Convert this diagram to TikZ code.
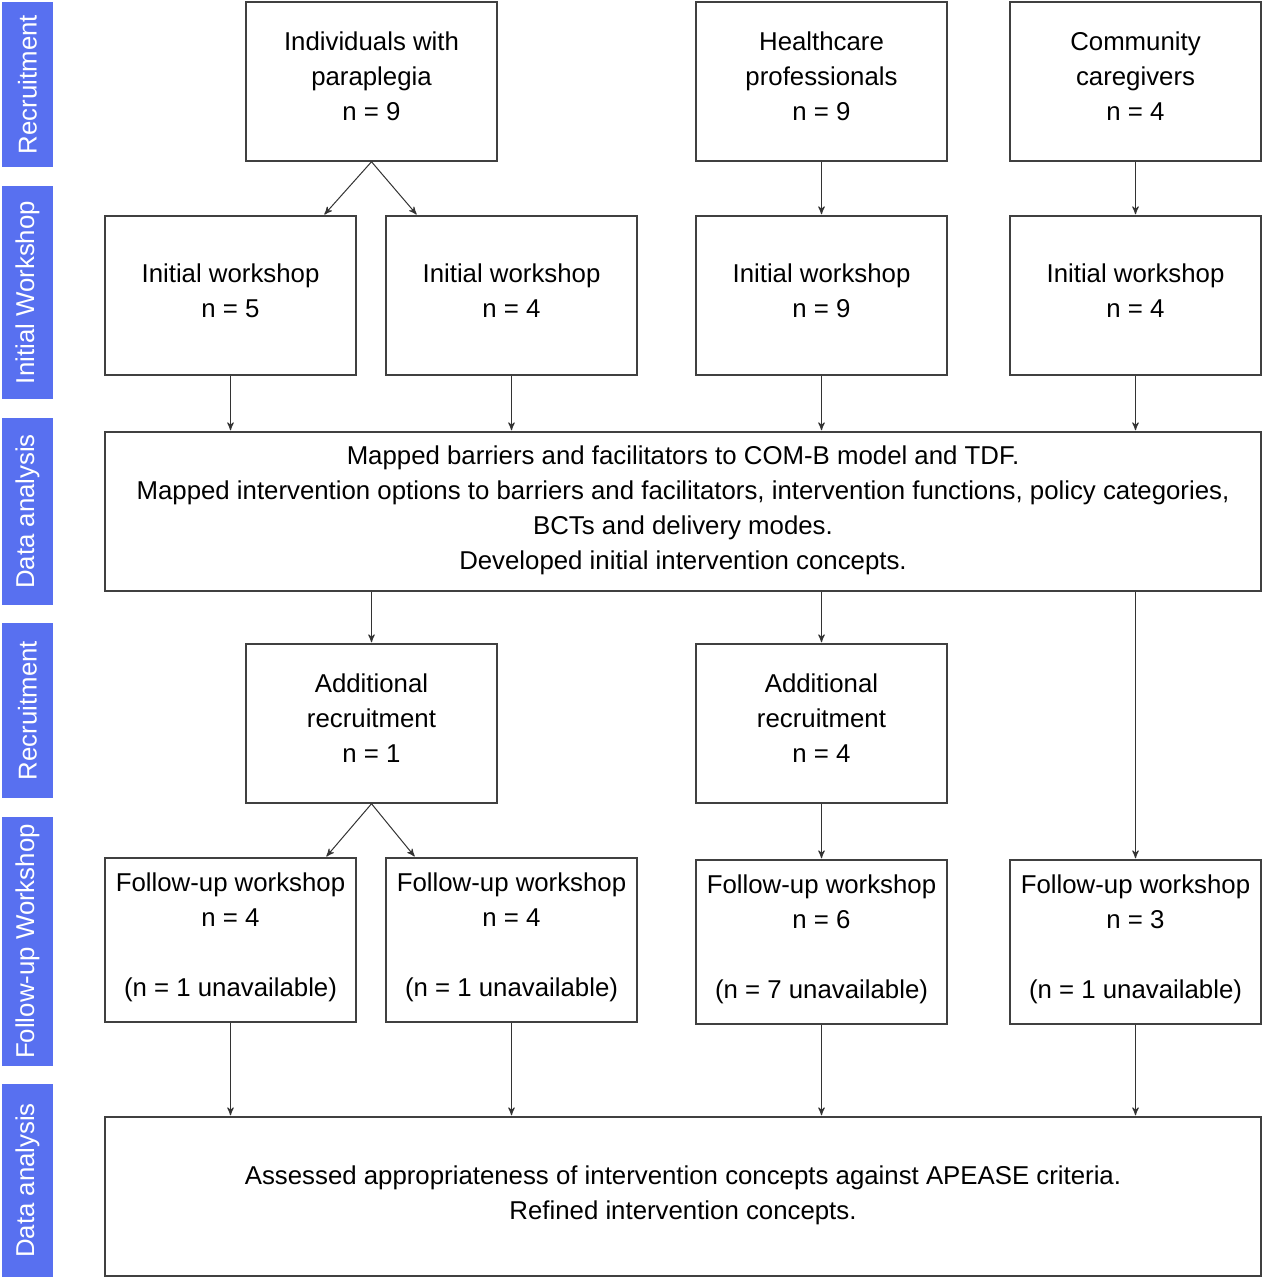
\documentclass[tikz,border=0pt]{standalone}
\usepackage{fontspec}
\setmainfont{Liberation Sans}
\usepackage{tikz}
\usetikzlibrary{positioning, calc, arrows}
\definecolor{stageblue}{RGB}{88,112,240}
\tikzset{box/.style={draw=black!75, line width=0.75pt, minimum width=125.5pt, minimum height=79.5pt, align=center, inner sep=0pt, text depth=5pt, font=\fontsize{12.9}{17.5}\selectfont}}
\tikzset{widebox/.style={box, minimum width=578pt, text depth=3.7pt}}
\tikzset{stage/.style={fill=stageblue, text=white, rotate=90, inner sep=0pt, minimum height=25.5pt, font=\fontsize{12.9}{15}\selectfont}}
\tikzset{flow/.style={->, >=stealth', black!80, line width=0.5pt, shorten >=0.5pt}}

\begin{document}
\begin{tikzpicture}[x=0.5pt, y=-0.5pt]

      \useasboundingbox (0,0) rectangle (1265,1280);

      % STAGES

      \node[stage, minimum width=82.5pt] (s1) at (27.5,84.5) {Recruitment};
      \node[stage, minimum width=106.5pt] (s2) at (27.5,292.5) {Initial Workshop};
      \node[stage, minimum width=93.5pt] (s3) at (27.5,511.5) {Data analysis};
      \node[stage, minimum width=87.5pt] (s4) at (27.5,710.5) {Recruitment};
      \node[stage, minimum width=124.5pt] (s5) at (27.5,941.5) {Follow-up Workshop};
      \node[stage, minimum width=96.5pt] (s6) at (27.5,1180.5) {Data analysis};

      % RECRUITMENT

      \node[box] (ind) at (371.5,81.5) {Individuals with\\paraplegia\\n = 9};
      \node[box] (hcp) at (821.5,81.5) {Healthcare\\professionals\\n = 9};
      \node[box] (cc) at (1135.5,81.5) {Community\\caregivers\\n = 4};

      % INITIAL WORKSHOPS

      \node[box] (iw1) at (230.5,295.5) {Initial workshop\\n = 5};
      \node[box] (iw2) at (511.5,295.5) {Initial workshop\\n = 4};
      \node[box] (iw3) at (821.5,295.5) {Initial workshop\\n = 9};
      \node[box] (iw4) at (1135.5,295.5) {Initial workshop\\n = 4};

      % DATA ANALYSIS

      \node[widebox] (da1) at (683,511.5) {Mapped barriers and facilitators to COM-B model and TDF.\\
        Mapped intervention options to barriers and facilitators, intervention functions, policy categories,\\
        BCTs and delivery modes.\\
        Developed initial intervention concepts.};

      % ADDITIONAL RECRUITMENT

      \node[box] (ar1) at (371.5,723.5) {Additional\\recruitment\\n = 1};
      \node[box] (ar2) at (821.5,723.5) {Additional\\recruitment\\n = 4};

      % FOLLOW-UP WORKSHOPS

      \node[box, minimum height=82pt] (fw1) at (230.5,940) {Follow-up workshop\\n = 4\\[17.5pt](n = 1 unavailable)};
      \node[box, minimum height=82pt] (fw2) at (511.5,940) {Follow-up workshop\\n = 4\\[17.5pt](n = 1 unavailable)};
      \node[box, minimum height=82pt] (fw3) at (821.5,942) {Follow-up workshop\\n = 6\\[17.5pt](n = 7 unavailable)};
      \node[box, minimum height=82pt] (fw4) at (1135.5,942) {Follow-up workshop\\n = 3\\[17.5pt](n = 1 unavailable)};

      \node[widebox] (da2) at (683,1196.5) {Assessed appropriateness of intervention concepts against APEASE criteria.\\
        Refined intervention concepts.};

      % ARCS

      \draw[flow] (ind.south) -- ($(iw1.north east)-(33,0)$);
      \draw[flow] (ind.south) -- ($(iw2.north west)+(32,0)$);
      \draw[flow] (hcp) -- (iw3);
      \draw[flow] (cc) -- (iw4);

      \foreach \w in {iw1, iw2, iw3, iw4}
        \draw[flow] (\w.south) -- (\w.south |- da1.north);

      \draw[flow] (ar1 |- da1.south) -- (ar1.north);
      \draw[flow] (ar2 |- da1.south) -- (ar2.north);
      \draw[flow] (fw4 |- da1.south) -- (fw4.north);

      \draw[flow] (ar1.south) -- ($(fw1.north east)-(31,0)$);
      \draw[flow] (ar1.south) -- ($(fw2.north west)+(30,0)$);
      \draw[flow] (ar2) -- (fw3);

      \foreach \w in {fw1, fw2, fw3, fw4}
        \draw[flow] (\w.south) -- (\w.south |- da2.north);

    \end{tikzpicture}
\end{document}
